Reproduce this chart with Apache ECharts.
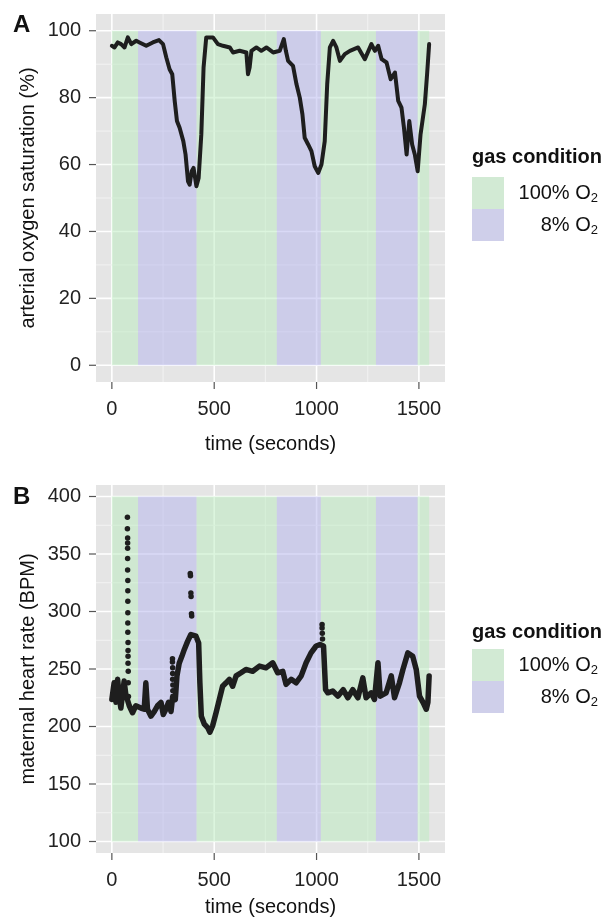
<!doctype html>
<html lang="en">
<head>
    <meta charset="utf-8">
    <title>Oxygen saturation and heart rate</title>
    <script src="https://cdn.jsdelivr.net/npm/echarts@6.0.0/dist/echarts.min.js"></script>
    <style>
        html, body { margin: 0; padding: 0; background: #fff; }
        #chart { width: 611px; height: 920px; }
    </style>
</head>
<body>
<div id="chart"></div>
<script type="text/javascript">
    // gas condition bands (seconds), 0 = 100% O2, 1 = 8% O2
    var bandStart = [0, 128, 414, 806, 1021, 1290, 1494];
    var bandEnd = [128, 414, 806, 1021, 1290, 1494, 1550];
    var bandCond = [0, 1, 0, 1, 0, 1, 0];
    var condNames = ['100% O', '8% O'];

    // panel A: arterial oxygen saturation (%)
    var tA = [0, 13, 29, 45, 62, 78, 95, 119, 135, 168, 200, 230, 250, 266, 282, 295, 307, 318, 331, 349,
        360, 372, 380, 390, 399, 413, 424, 437, 448, 461, 494, 518, 543, 576, 592, 624, 657, 665, 673, 682,
        706, 730, 755, 788, 820, 840, 850, 861, 885, 902, 918, 931, 942, 959, 975, 991, 1008, 1024, 1040, 1052,
        1065, 1081, 1097, 1114, 1138, 1163, 1203, 1236, 1268, 1285, 1301, 1318, 1342, 1362, 1383, 1399, 1415, 1427, 1440, 1453,
        1467, 1480, 1494, 1508, 1529, 1540, 1550];
    var satA = [95.5, 95, 96.5, 96, 95, 98, 96, 97, 96.5, 95.5, 96.5, 97.2, 96, 92, 88.5, 87, 79, 73, 71, 67,
        63, 55, 54, 58, 59, 53.5, 56, 69, 89, 98, 98, 96, 95.5, 95, 93.5, 94, 93.5, 87, 89, 94,
        95, 94, 95, 93.5, 94, 97.5, 94, 91, 89.5, 84, 80, 75, 68, 66, 64, 59.5, 57.5, 60, 67, 84,
        95, 97, 95, 91, 93, 94, 95, 91.5, 96, 94, 95.5, 91.5, 90.5, 85.5, 87.5, 79, 77, 71, 63, 73,
        66, 63, 58, 69, 78, 87, 96];

    // panel B: maternal heart rate (BPM)
    var tB = [0, 3, 11, 20, 28, 36, 44, 52, 60, 68, 85, 101, 117, 142, 158, 166, 174, 191, 207, 223,
        240, 251, 264, 277, 289, 297, 310, 318, 329, 342, 354, 370, 386, 411, 424, 430, 437, 452, 468, 479,
        492, 509, 525, 541, 558, 574, 590, 607, 631, 655, 688, 721, 753, 786, 810, 835, 851, 876, 900, 925,
        949, 973, 998, 1017, 1034, 1044, 1055, 1079, 1104, 1130, 1153, 1177, 1202, 1226, 1242, 1267, 1283, 1300, 1311, 1340,
        1365, 1381, 1405, 1422, 1446, 1470, 1487, 1503, 1520, 1536, 1544, 1550];
    var hrB = [223.5, 222, 238, 221, 241, 226, 216, 228, 239.5, 228, 218, 212, 218, 216, 215, 238, 215, 209, 213, 218,
        221, 210.5, 215, 221, 213, 226, 223.5, 244, 255, 261, 267, 274, 280, 278.5, 272.7, 238, 209, 202, 199, 195,
        200.4, 212, 223.5, 235, 238, 241, 235, 244, 246.7, 249.6, 248, 252.5, 251, 255.4, 246.7, 248, 236.6, 241, 238, 244,
        255.4, 264, 270, 271.3, 270, 232, 229.3, 230.8, 226.4, 232, 225, 232, 225, 242.3, 225, 229.3, 223.5, 255.4, 226.4, 229.3,
        244, 225, 238, 249.6, 264, 261, 249.6, 226.4, 221, 215, 221, 244];
    // isolated points on the fast spikes
    var tSpike = [76, 76, 77, 77, 77, 77, 77, 78, 78, 78, 78, 78, 78, 79, 79, 79, 79, 80, 80, 81,
        296, 296, 297, 297, 297, 298, 298,
        383, 384, 386, 387, 389, 390,
        1027, 1027, 1028, 1029];
    var hrSpike = [382, 372, 364, 359.5, 355, 346, 336, 327, 318, 309, 299, 290, 282, 273, 266, 261, 255, 248, 238, 226,
        259, 256, 251, 246, 241, 236, 231,
        333, 331, 316, 313, 298, 296,
        288.6, 285.7, 281, 276];

    // axis ticks and gridlines
    var xTicks = [0, 500, 1000, 1500];
    var xMinor = [250, 750, 1250];
    var yTicksA = [0, 20, 40, 60, 80, 100];
    var yMinorA = [10, 30, 50, 70, 90];
    var yTicksB = [100, 150, 200, 250, 300, 350, 400];
    var yMinorB = [125, 175, 225, 275, 325, 375];

    var FONT = "'Liberation Sans', Arial, Helvetica, sans-serif";
    var bandColors = ['rgba(186,236,190,0.5)', 'rgba(180,180,238,0.5)'];
    var keyColors = ['#D2EAD4', '#CFCFEA'];
    var ink = '#1e1e1e';
    var TICK = 7;

    function gridData(xs, xm, ys, ym) {
        var d = [];
        xs.forEach(function (v) { d.push([v, 0, 0]); });
        xm.forEach(function (v) { d.push([v, 0, 1]); });
        ys.forEach(function (v) { d.push([v, 1, 0]); });
        ym.forEach(function (v) { d.push([v, 1, 1]); });
        return d;
    }

    // panel gridlines plus the outside tick marks of the major breaks
    function gridSeries(idx, yRef, data) {
        return {
            type: 'custom', xAxisIndex: idx, yAxisIndex: idx, silent: true, z: 1, clip: false,
            data: data,
            renderItem: function (params, api) {
                var cs = params.coordSys;
                var minor = api.value(2) === 1;
                var style = { stroke: minor ? '#F3F3F3' : '#FFFFFF', lineWidth: minor ? 1 : 1.6 };
                var shape, tick;
                if (api.value(1) === 0) {
                    var px = api.coord([api.value(0), yRef])[0];
                    shape = { x1: px, y1: cs.y, x2: px, y2: cs.y + cs.height };
                    tick = { x1: px, y1: cs.y + cs.height, x2: px, y2: cs.y + cs.height + TICK };
                } else {
                    var py = api.coord([0, api.value(0)])[1];
                    shape = { x1: cs.x, y1: py, x2: cs.x + cs.width, y2: py };
                    tick = { x1: cs.x - TICK, y1: py, x2: cs.x, y2: py };
                }
                var children = [{ type: 'line', shape: shape, style: style }];
                if (!minor) {
                    children.push({ type: 'line', shape: tick, style: { stroke: '#555', lineWidth: 1.2 } });
                }
                return { type: 'group', children: children };
            }
        };
    }

    function bandSeries(idx, yLow, yHigh) {
        return {
            type: 'custom', xAxisIndex: idx, yAxisIndex: idx, silent: true, z: 2,
            data: bandStart.map(function (s, i) { return [s, bandEnd[i], bandCond[i]]; }),
            renderItem: function (params, api) {
                var p0 = api.coord([api.value(0), yHigh]);
                var p1 = api.coord([api.value(1), yLow]);
                return {
                    type: 'rect',
                    shape: { x: p0[0], y: p0[1], width: p1[0] - p0[0], height: p1[1] - p0[1] },
                    style: { fill: bandColors[api.value(2)] }
                };
            }
        };
    }

    function plain(v) { return String(v); }

    function xAxisCfg(idx, gap) {
        return {
            type: 'value', gridIndex: idx, min: -77.5, max: 1627.5,
            axisLine: { show: false, onZero: false },
            axisTick: { show: false },
            axisLabel: { customValues: xTicks, formatter: plain, margin: 17, fontSize: 20, color: '#222', fontFamily: FONT },
            splitLine: { show: false },
            name: 'time (seconds)', nameLocation: 'middle', nameGap: gap, nameMoveOverlap: false,
            nameTextStyle: { fontSize: 20, color: '#111', fontFamily: FONT }
        };
    }

    function yAxisCfg(idx, min, max, ticks, title) {
        return {
            type: 'value', gridIndex: idx, min: min, max: max,
            axisLine: { show: false, onZero: false },
            axisTick: { show: false },
            axisLabel: { customValues: ticks, formatter: plain, margin: 15, fontSize: 20, color: '#222', fontFamily: FONT },
            splitLine: { show: false },
            name: title, nameLocation: 'middle', nameGap: 58, nameRotate: 90, nameMoveOverlap: false,
            nameTextStyle: { fontSize: 20, color: '#111', fontFamily: FONT }
        };
    }

    function legendGraphics(titleY, keyTop) {
        var g = [{
            type: 'text', left: 472, top: titleY - 11,
            style: { text: 'gas condition', font: 'bold 20px ' + FONT, fill: '#111' }
        }];
        for (var i = 0; i < 2; i++) {
            g.push({
                type: 'rect', shape: { x: 472, y: keyTop + i * 32, width: 32, height: 32 },
                style: { fill: keyColors[i] }
            });
            g.push({
                type: 'text', x: 598, y: keyTop + i * 32 + 16,
                style: {
                    text: '{n|' + condNames[i] + '}{s|2}',
                    align: 'right', verticalAlign: 'middle',
                    rich: {
                        n: { fontSize: 20, fontFamily: FONT, fill: '#111', color: '#111', lineHeight: 24, verticalAlign: 'middle' },
                        s: { fontSize: 13, fontFamily: FONT, fill: '#111', color: '#111', lineHeight: 13, verticalAlign: 'bottom' }
                    }
                }
            });
        }
        return g;
    }

    var myChart = echarts.init(document.getElementById('chart'), null, { renderer: 'canvas' });
    var option = {
        animation: false,
        backgroundColor: '#ffffff',
        textStyle: { fontFamily: FONT },
        grid: [
            { left: 96, top: 14, width: 349, height: 368, show: true, backgroundColor: '#E5E5E5', borderWidth: 0, outerBoundsMode: 'none' },
            { left: 96, top: 485, width: 349, height: 368, show: true, backgroundColor: '#E5E5E5', borderWidth: 0, outerBoundsMode: 'none' }
        ],
        xAxis: [xAxisCfg(0, 52), xAxisCfg(1, 44)],
        yAxis: [
            yAxisCfg(0, -5, 105, yTicksA, 'arterial oxygen saturation (%)'),
            yAxisCfg(1, 90, 410, yTicksB, 'maternal heart rate (BPM)')
        ],
        graphic: [
            { type: 'text', left: 13, top: 13, style: { text: 'A', font: 'bold 24px ' + FONT, fill: '#111' } },
            { type: 'text', left: 13, top: 485, style: { text: 'B', font: 'bold 24px ' + FONT, fill: '#111' } }
        ].concat(legendGraphics(158, 177), legendGraphics(633, 649)),
        series: [
            gridSeries(0, 0, gridData(xTicks, xMinor, yTicksA, yMinorA)),
            bandSeries(0, 0, 100),
            {
                type: 'line', xAxisIndex: 0, yAxisIndex: 0, z: 3, symbol: 'none', silent: true,
                data: tA.map(function (t, i) { return [t, satA[i]]; }),
                lineStyle: { color: ink, width: 4, join: 'round', cap: 'round' }
            },
            gridSeries(1, 100, gridData(xTicks, xMinor, yTicksB, yMinorB)),
            bandSeries(1, 100, 400),
            {
                type: 'line', xAxisIndex: 1, yAxisIndex: 1, z: 3, symbol: 'none', silent: true,
                data: tB.map(function (t, i) { return [t, hrB[i]]; }),
                lineStyle: { color: ink, width: 5.5, join: 'round', cap: 'round' }
            },
            {
                type: 'scatter', xAxisIndex: 1, yAxisIndex: 1, z: 3, silent: true,
                symbol: 'circle', symbolSize: 5.5,
                data: tSpike.map(function (t, i) { return [t, hrSpike[i]]; }),
                itemStyle: { color: ink, opacity: 1 }
            }
        ]
    };
    myChart.setOption(option);
</script>
</body>
</html>
